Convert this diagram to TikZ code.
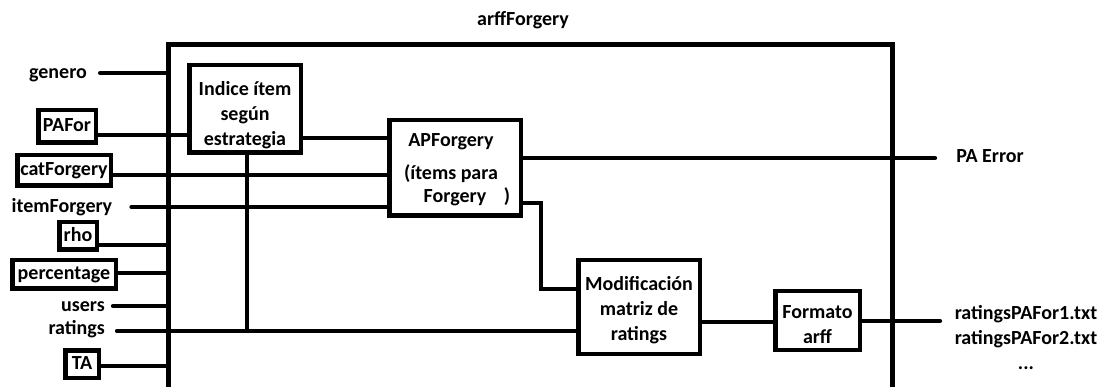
\documentclass[tikz,border=0pt]{standalone}
\usepackage{fontspec}
\setmainfont{Carlito}
\begin{document}
\begin{tikzpicture}[x=1pt,y=-1pt,
  txt/.style={font=\bfseries\fontsize{20}{25}\selectfont, inner sep=0pt, align=center},
  lbl/.style={txt, text height=11pt, text depth=0pt},
  blk/.style={lbl, draw, line width=4.5pt, fill=white},
  wire/.style={line width=4.2pt, line cap=round},
  frame/.style={line width=5pt}]
\useasboundingbox (0,0) rectangle (1103,387);

% enclosing module
\draw[frame] (168,390) -- (168,45) -- (892,45) -- (892,390);
\node[lbl] (title) at (523,20) {arffForgery};
\coordinate (outL) at (168,0);

% input labels
\node[lbl] (lgen) at (58,73) {genero};
\node[blk, minimum width=57.5pt, minimum height=32.5pt] (pafor) at (67,126.5) {PAFor};
\node[blk, minimum width=93.5pt, minimum height=30.5pt] (catf) at (64,170.5) {catForgery};
\node[lbl] (litem) at (62,207) {itemForgery};
\node[blk, minimum width=37.5pt, minimum height=27.5pt] (rho) at (78,236) {rho};
\node[blk, minimum width=103.5pt, minimum height=28.5pt] (perc) at (64,274.5) {percentage};
\node[lbl, anchor=east] (lusers) at (105,306) {users};
\node[lbl, anchor=east] (lrat) at (105,329) {ratings};
\node[blk, minimum width=33.5pt, minimum height=27.5pt] (ta) at (82,364) {TA};

% processing blocks (outlines)
\node[blk, minimum width=111.5pt, minimum height=87.5pt] (ind) at (245,109) {};
\node[blk, minimum width=131.5pt, minimum height=95.5pt] (apf) at (455,168) {};
\node[blk, minimum width=121.5pt, minimum height=93.5pt] (mod) at (639,307) {};
\node[blk, minimum width=84.5pt, minimum height=58.5pt] (fmt) at (817.5,320.5) {};

% processing blocks (captions)
\node[txt] (indT) at (245,115.5) {Indice ítem\\según\\estrategia};
\node[lbl] (apf1) at (451,141) {APForgery};
\node[lbl] (apf2) at (451,174) {(ítems para};
\node[lbl] (apf3) at (455,197) {Forgery};
\node[lbl] (apf4) at (507,197) {)};
\node[txt] (modT) at (639,310) {Modificación\\matriz de\\ratings};
\node[txt] (fmtT) at (817.5,325) {Formato\\arff};

% outputs
\node[lbl] (lerr) at (990,157) {PA Error};
\node[txt] (lout) at (1026,338) {ratingsPAFor1.txt\\ratingsPAFor2.txt\\...};

% wire levels
\coordinate (yPA) at (0,135);
\coordinate (yCat) at (0,175);
\coordinate (yItem) at (0,207);
\coordinate (yRho) at (0,245);
\coordinate (yPerc) at (0,273);
\coordinate (yUsr) at (0,306);
\coordinate (yRat) at (0,331);
\coordinate (yTA) at (0,366);
\coordinate (yInd) at (0,138);
\coordinate (yErr) at (0,158);
\coordinate (yAPo) at (0,203);
\coordinate (yMod) at (0,322);
\coordinate (yOut) at (0,321);
\coordinate (ratJ) at (247,331);
\coordinate (bend1) at (541,203);
\coordinate (bend2) at (541,289);
\coordinate (errEnd) at (935,158);
\coordinate (outEnd) at (940,321);

% connectors
\draw[wire] ([xshift=13pt]lgen.east) -- (lgen.east -| outL);
\draw[wire] (pafor.east |- yPA) -- (ind.west |- yPA);
\draw[wire] (catf.east |- yCat) -- (apf.west |- yCat);
\draw[wire] ([xshift=19pt]litem.east |- yItem) -- (apf.west |- yItem);
\draw[wire] (rho.east |- yRho) -- (outL |- yRho);
\draw[wire] (perc.east |- yPerc) -- (outL |- yPerc);
\draw[wire] ([xshift=8pt]lusers.east |- yUsr) -- (outL |- yUsr);
\draw[wire] ([xshift=12pt]lrat.east |- yRat) -- (mod.west |- yRat);
\draw[wire] (ta.east |- yTA) -- (outL |- yTA);
\draw[wire] (ind.east |- yInd) -- (apf.west |- yInd);
\draw[wire] (ind.south -| ratJ) -- (ratJ);
\draw[wire] (apf.east |- yErr) -- (errEnd);
\draw[wire] (apf.east |- yAPo) -- (bend1) -- (bend2) -- (mod.west |- bend2);
\draw[wire] (mod.east |- yMod) -- (fmt.west |- yMod);
\draw[wire] (fmt.east |- yOut) -- (outEnd);
\end{tikzpicture}
\end{document}
